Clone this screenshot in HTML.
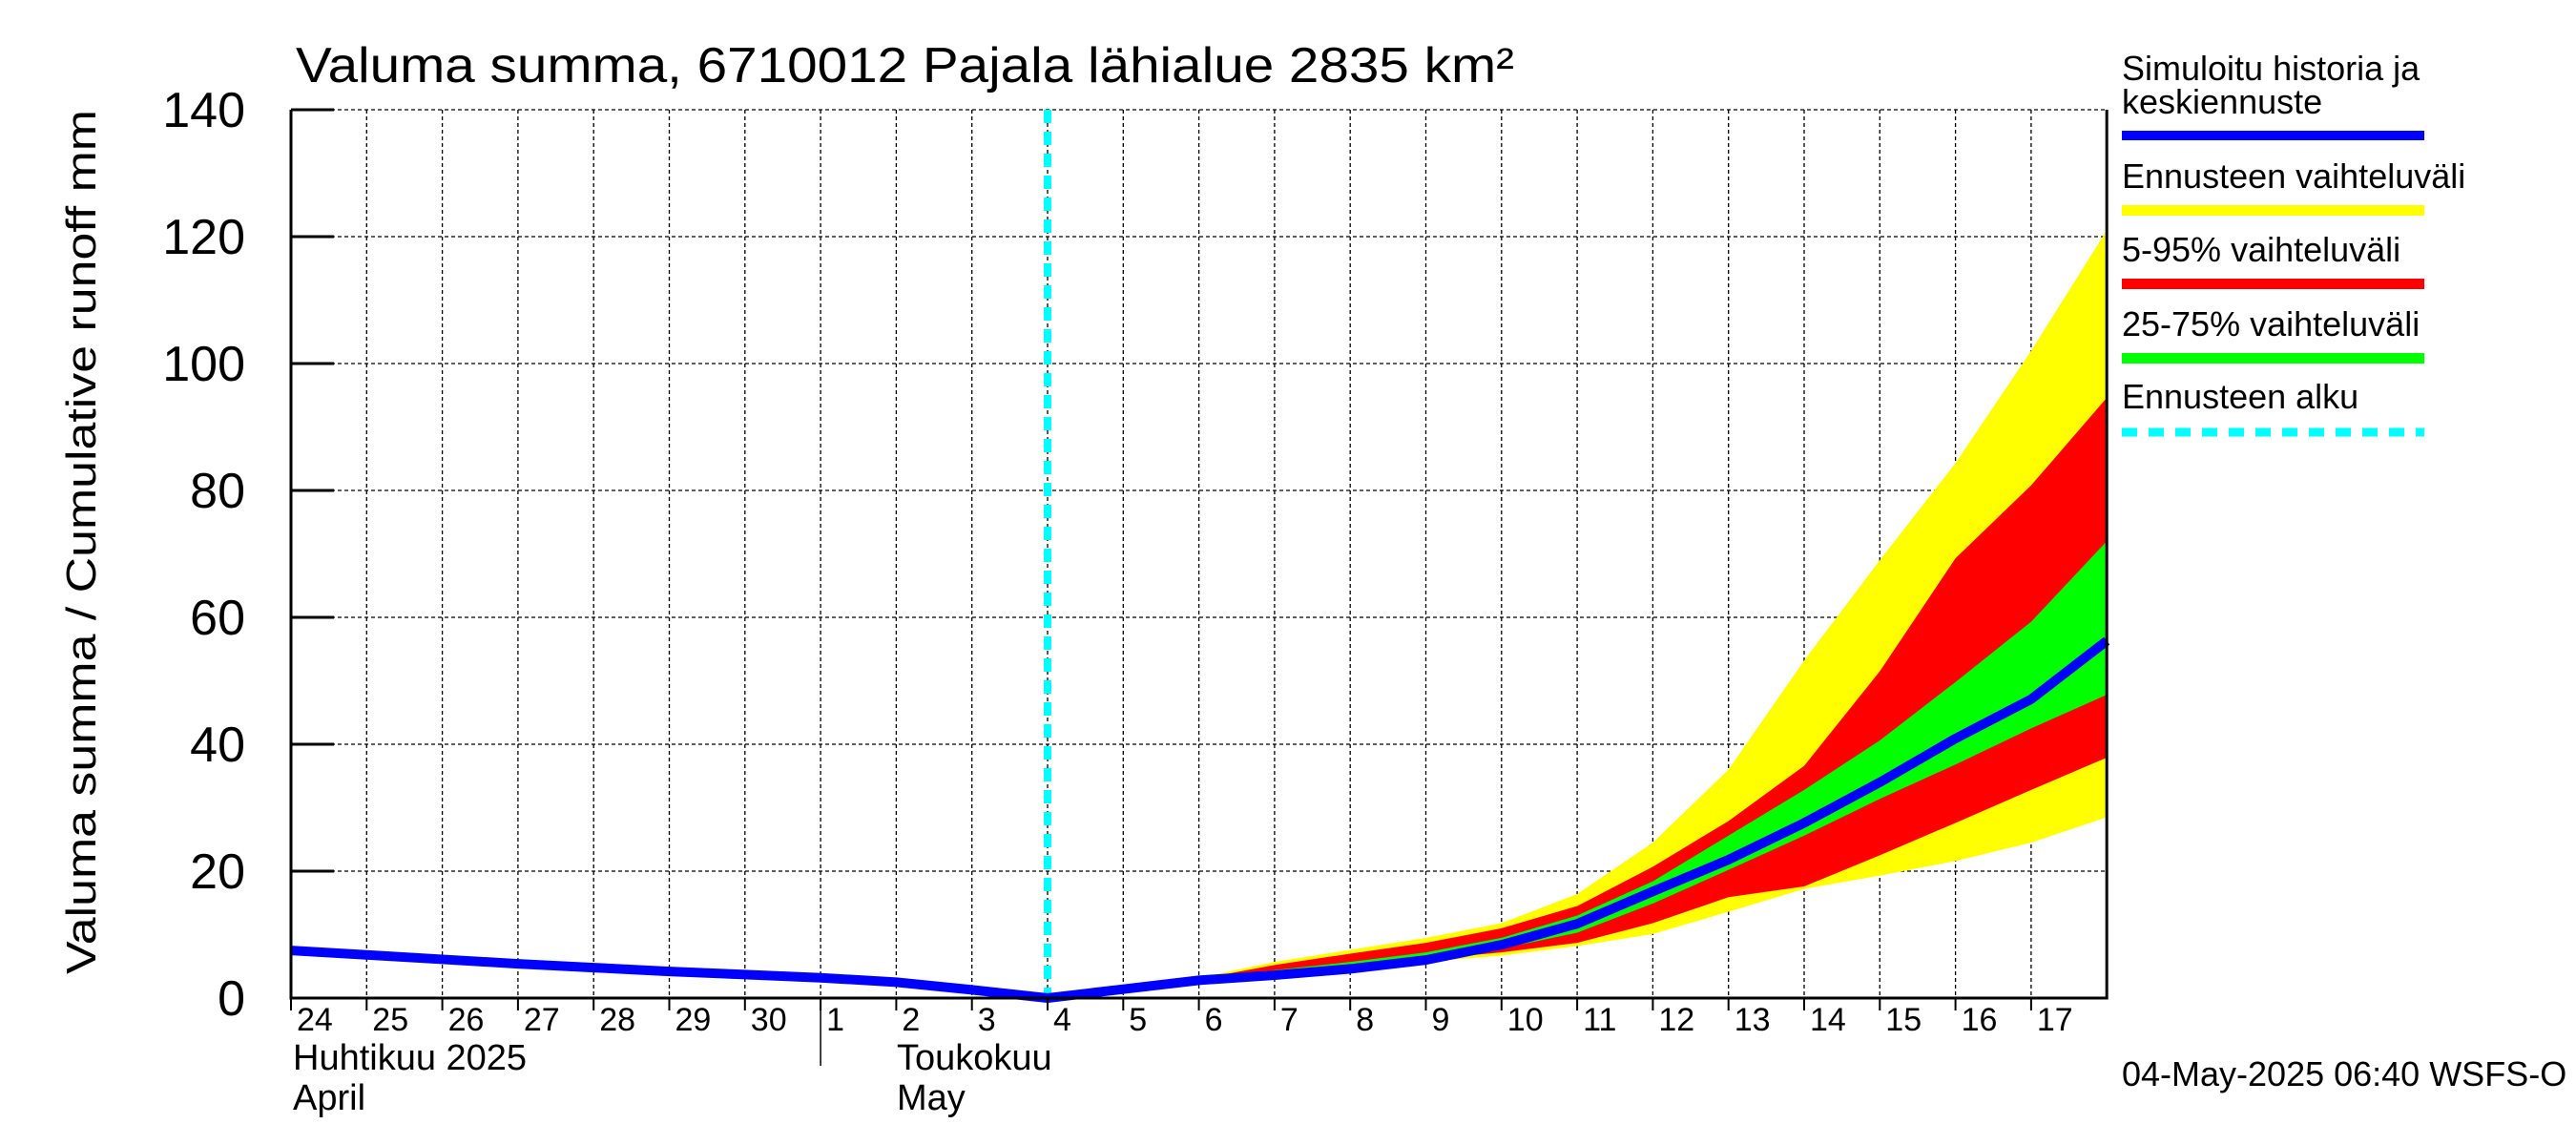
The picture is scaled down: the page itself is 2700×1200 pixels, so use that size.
<!DOCTYPE html>
<html><head><meta charset="utf-8"><style>
html,body{margin:0;padding:0;background:#fff;}
svg{display:block;font-family:"Liberation Sans",sans-serif;}
</style></head><body>
<svg id="chart" width="2700" height="1200" viewBox="0 0 2700 1200">
<rect width="2700" height="1200" fill="#fff"/>
<text x="310" y="86" font-size="52" textLength="1277" lengthAdjust="spacingAndGlyphs">Valuma summa, 6710012 Pajala lähialue 2835 km²</text>
<text transform="translate(100,1021) rotate(-90)" font-size="44" textLength="906" lengthAdjust="spacingAndGlyphs">Valuma summa / Cumulative runoff    mm</text>
<g id="grid"></g><g id="bands"></g><g id="lines"></g><g id="axes"></g>
<g font-size="36">
<text x="2224" y="84">Simuloitu historia ja</text>
<text x="2224" y="119">keskiennuste</text>
<rect x="2224" y="137" width="317" height="10" fill="#0000ff"/>
<text x="2224" y="197">Ennusteen vaihteluväli</text>
<rect x="2224" y="215" width="317" height="11" fill="#ffff00"/>
<text x="2224" y="274">5-95% vaihteluväli</text>
<rect x="2224" y="292" width="317" height="11" fill="#ff0000"/>
<text x="2224" y="352">25-75% vaihteluväli</text>
<rect x="2224" y="370" width="317" height="11" fill="#00ff00"/>
<text x="2224" y="428">Ennusteen alku</text>
<line x1="2224" y1="453" x2="2541" y2="453" stroke="#00ffff" stroke-width="9" stroke-dasharray="16,12"/>
</g>
<text x="2224" y="1138" font-size="36">04-May-2025 06:40 WSFS-O</text>
<text x="307" y="1121" font-size="38">Huhtikuu  2025</text>
<text x="307" y="1163" font-size="38">April</text>
<text x="940" y="1121" font-size="38">Toukokuu</text>
<text x="940" y="1163" font-size="38">May</text>
</svg>
<script>
const dayLabels=["24","25","26","27","28","29","30","1","2","3","4","5","6","7","8","9","10","11","12","13","14","15","16","17"];
const yTicks=[0,20,40,60,80,100,120,140];
const histIdx=[0,1,2,3,4,5,6,7,8,9,10];
const histVals=[7.5,6.8,6.1,5.4,4.8,4.2,3.7,3.2,2.5,1.3,0];
const fcIdx=[10,11,12,13,14,15,16,17,18,19,20,21,22,23,24];
const meanVals=[0,1.4,2.8,3.6,4.6,6.0,8.4,11.7,16.8,21.8,27.6,34,40.9,47.1,56.3];
const yelHi=[0,1.6,3.2,5.7,7.6,9.5,11.8,16.4,24.5,36,53.2,69,84.3,102,121];
const yelLo=[0,1.3,2.5,3.3,4.4,5.7,6.7,8.2,10.1,13.6,17.2,19.3,21.6,24.5,28.5];
const redHi=[0,1.5,3.0,5.2,7.0,8.7,11,14.5,20.7,27.9,36.6,51.5,69.3,80.8,94.6];
const redLo=[0,1.3,2.6,3.4,4.6,6.1,7.2,8.7,11.8,15.9,17.6,22.5,27.6,32.8,37.9];
const grnHi=[0,1.5,2.9,4.4,5.7,7.2,9.5,13,18.4,25.6,32.8,40.6,49.8,59.3,72];
const grnLo=[0,1.4,2.7,3.5,4.9,6.4,7.8,10.3,14.9,20.2,25.6,31.4,36.8,42.5,47.8];
const forecastStart=10;

const X0=305,DX=79.3,Y0=1046,YT=115,VMAX=140;
const xs=i=>X0+i*DX;
const ys=v=>Y0-(v/VMAX)*(Y0-YT);
const NS="http://www.w3.org/2000/svg";
function mk(tag,attrs,parent){const e=document.createElementNS(NS,tag);for(const k in attrs)e.setAttribute(k,attrs[k]);parent.appendChild(e);return e;}
const grid=document.getElementById('grid'),bands=document.getElementById('bands'),lines=document.getElementById('lines'),axes=document.getElementById('axes');
const XR=xs(24);
for(let i=1;i<=24;i++){const l=mk('line',{x1:xs(i),y1:YT,x2:xs(i),y2:Y0,stroke:'#000','stroke-width':1.3,'stroke-dasharray':'4,3'},grid);

}
yTicks.forEach(v=>{if(v===0)return;const l=mk('line',{x1:X0,y1:ys(v),x2:XR,y2:ys(v),stroke:'#000','stroke-width':1.3,'stroke-dasharray':'4,3'},grid);

});
function band(hi,lo,color,name){let d='';fcIdx.forEach((ix,k)=>{d+=(k?'L':'M')+xs(ix)+','+ys(hi[k]);});
for(let k=fcIdx.length-1;k>=0;k--)d+='L'+xs(fcIdx[k])+','+ys(lo[k]);
const p=mk('path',{d:d+'Z',fill:color},bands);

}
band(yelHi,yelLo,'#ffff00','band-full-range');
band(redHi,redLo,'#ff0000','band-5-95');
band(grnHi,grnLo,'#00ff00','band-25-75');
const fl=mk('line',{x1:xs(forecastStart),y1:YT,x2:xs(forecastStart),y2:Y0,stroke:'#00ffff','stroke-width':8,'stroke-dasharray':'14,9'},lines);


let pts=histIdx.map((ix,k)=>xs(ix)+','+ys(histVals[k])).concat(fcIdx.slice(1).map((ix,k)=>xs(ix)+','+ys(meanVals[k+1])));
const bl=mk('polyline',{points:pts.join(' '),fill:'none',stroke:'#0000ff','stroke-width':10,'stroke-linejoin':'round'},lines);


// axes
const ax=mk('path',{d:`M${X0},${YT}V${Y0}H${XR}V${YT}`,fill:'none',stroke:'#000','stroke-width':3},axes);


yTicks.forEach(v=>{const t=mk('line',{x1:X0,y1:ys(v),x2:X0+45,y2:ys(v),stroke:'#000','stroke-width':3},axes);


const tx=mk('text',{x:X0-48,y:ys(v)+18,'font-size':52,'text-anchor':'end'},axes);tx.textContent=v;

});
dayLabels.forEach((lab,i)=>{const t=mk('line',{x1:xs(i),y1:Y0,x2:xs(i),y2:Y0+13,stroke:'#000','stroke-width':2},axes);


const tx=mk('text',{x:xs(i)+6,y:Y0+34,'font-size':34},axes);tx.textContent=lab;

});
const ms=mk('line',{x1:xs(7),y1:Y0,x2:xs(7),y2:1117,stroke:'#000','stroke-width':1.5},axes);


</script>
</body></html>
